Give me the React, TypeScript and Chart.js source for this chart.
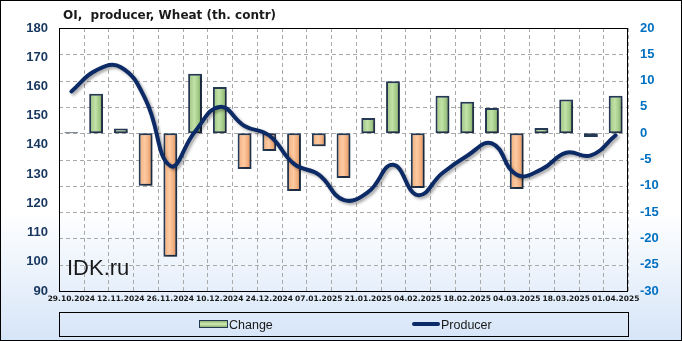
import React, { useEffect, useRef } from "react";
import { Chart, registerables } from "chart.js";
Chart.register(...registerables);

const categories = [
  "29.10.2024", "05.11.2024", "12.11.2024", "19.11.2024", "26.11.2024", "03.12.2024",
  "10.12.2024", "17.12.2024", "24.12.2024", "31.12.2024", "07.01.2025", "14.01.2025",
  "21.01.2025", "28.01.2025", "04.02.2025", "11.02.2025", "18.02.2025", "25.02.2025",
  "04.03.2025", "11.03.2025", "18.03.2025", "25.03.2025", "01.04.2025",
];
const change = [
  0.2, 7.5, 0.9, -10, -23.5, 11.3, 8.8, -6.8, -3.4, -11, -2.5, -8.5,
  2.9, 9.9, -10.4, 7.1, 6.0, 4.8, -10.6, 1.0, 6.4, -0.7, 7.1,
];
const producer = [
  158.3, 165.5, 166.6, 155.5, 132.8, 144.6, 153, 146.5, 143.2, 133.5, 129.8, 121.2,
  123.9, 133.2, 122.8, 130.4, 136.3, 140.5, 129.8, 131.6, 137.3, 136.4, 143.3,
];
const titleText = "OI,  producer, Wheat (th. contr)";
const leftRange = { min: 90, max: 180, step: 10 };
const rightRange = { min: -30, max: 20, step: 5 };

const NAVY = "#0b2a66";
const BAR_BORDER = "#263954";
const GRID = "#a9a9a9";

export default function App() {
  const ref = useRef<HTMLCanvasElement>(null);
  useEffect(() => {
    document.body.style.margin = "0";
    const canvas = ref.current;
    if (!canvas) return;

    const makeGrad = (c: CanvasRenderingContext2D, x0: number, x1: number, pos: boolean) => {
      const g = c.createLinearGradient(x0, 0, x1, 0);
      if (pos) {
        g.addColorStop(0, "#98c27a");
        g.addColorStop(0.45, "#c2e2a8");
        g.addColorStop(0.75, "#a0c884");
        g.addColorStop(1, "#6a914e");
      } else {
        g.addColorStop(0, "#f0a874");
        g.addColorStop(0.45, "#fdcaa2");
        g.addColorStop(0.75, "#f2ad7c");
        g.addColorStop(1, "#c47a48");
      }
      return g;
    };

    const dashedGrid = {
      id: "dashedGrid",
      beforeDatasetsDraw(chart: any) {
        const { left, top, right, bottom } = chart.chartArea;
        const c = chart.ctx;
        const xs = chart.scales.x;
        const ys = chart.scales.y1;
        c.save();
        c.strokeStyle = GRID;
        c.lineWidth = 1;
        c.setLineDash([4, 3]);
        c.beginPath();
        for (let i = 0; i <= categories.length; i++) {
          const x = Math.round(xs.getPixelForValue(i - 0.5)) + 0.5;
          c.moveTo(x, top);
          c.lineTo(x, bottom);
        }
        for (let v = rightRange.min; v <= rightRange.max; v += rightRange.step) {
          const y = Math.round(ys.getPixelForValue(v)) + 0.5;
          c.moveTo(left, y);
          c.lineTo(right, y);
        }
        c.stroke();
        c.restore();
      },
    };

    const shadow = {
      id: "shadow",
      beforeDatasetDraw(chart: any, args: any) {
        const c = chart.ctx;
        const meta = args.meta;
        if (meta && meta.type === "bar") {
          meta.data.forEach((el: any, i: number) => {
            if (!isFinite(el.x) || !el.options) return;
            const half = (el.width || 14) / 2;
            const g = makeGrad(c, el.x - half, el.x + half, change[i] >= 0);
            el.options = Object.assign({}, el.options, { backgroundColor: g });
          });
        }
        c.save();
        c.shadowColor = "rgba(0,0,0,0.35)";
        c.shadowBlur = 3;
        c.shadowOffsetX = 2;
        c.shadowOffsetY = 2;
      },
      afterDatasetDraw(chart: any) {
        chart.ctx.restore();
      },
    };
    const frame = {
      id: "frame",
      afterDraw(chart: any) {
        const { left, top, right, bottom } = chart.chartArea;
        const c = chart.ctx;
        c.save();
        c.strokeStyle = "#000";
        c.lineWidth = 1;
        c.strokeRect(Math.round(left) + 0.5, Math.round(top) + 0.5, Math.round(right - left) - 1, Math.round(bottom - top));
        c.restore();
      },
    };

    const axisFont = { family: "'Liberation Sans', Arial, sans-serif", weight: "bold" as const, size: 13 };

    const chart = new Chart(canvas, {
      type: "bar",
      data: {
        labels: categories,
        datasets: [
          {
            type: "line",
            label: "Producer",
            data: producer,
            yAxisID: "y",
            borderColor: NAVY,
            borderWidth: 4,
            pointRadius: 0,
            tension: 0.45,
            fill: false,
            order: 0,
            borderCapStyle: "round",
          } as any,
          {
            type: "bar",
            label: "Change",
            data: change,
            yAxisID: "y1",
            backgroundColor: change.map((v) => (v < 0 ? "#f4b183" : "#a9d18e")),
            borderColor: BAR_BORDER,
            borderWidth: 2,
            borderSkipped: false,
            barPercentage: 0.56,
            categoryPercentage: 1,
            order: 1,
          } as any,
        ],
      },
      options: {
        animation: false,
        responsive: false,
        maintainAspectRatio: false,
        layout: { padding: { top: 28, left: 0, right: 0, bottom: 0 } },
        plugins: {
          legend: { display: false },
          tooltip: { enabled: false },
          title: { display: false },
        },
        scales: {
          x: {
            offset: true,
            grid: { display: false, drawTicks: false },
            border: { display: false },
            ticks: {
              autoSkip: false,
              maxRotation: 0,
              minRotation: 0,
              padding: 4,
              color: "#1a1a1a",
              font: { family: "'DejaVu Sans', sans-serif", weight: "bold", size: 7.5 },
              callback: (_v: any, i: number) => (i % 2 === 0 ? categories[i] : ""),
            },
            afterFit: (s: any) => {
              s.height = 50;
            },
          },
          y: {
            position: "left",
            min: leftRange.min,
            max: leftRange.max,
            ticks: { stepSize: leftRange.step, padding: 11, color: "#17365d", font: axisFont },
            grid: { display: false, drawTicks: false },
            border: { display: false },
            afterFit: (s: any) => {
              s.width = 59;
            },
          },
          y1: {
            position: "right",
            min: rightRange.min,
            max: rightRange.max,
            ticks: { stepSize: rightRange.step, padding: 12, color: "#0070c0", font: axisFont },
            grid: { display: false, drawTicks: false },
            border: { display: false },
            afterFit: (s: any) => {
              s.width = 54;
            },
          },
        },
      } as any,
      plugins: [dashedGrid, shadow, frame],
    });
    return () => chart.destroy();
  }, []);

  return (
    <div
      style={{
        position: "fixed",
        left: 0,
        top: 0,
        width: 682,
        height: 341,
        boxSizing: "border-box",
        border: "1px solid #000",
        background: "linear-gradient(to bottom, #ffffff 0%, #ffffff 62%, #d6e5f8 100%)",
        overflow: "hidden",
      }}
    >
      <canvas ref={ref} width={682} height={341} style={{ position: "absolute", left: -1, top: -1, width: 682, height: 341 }} />
      <div
        style={{
          position: "absolute",
          left: 62,
          top: 5,
          font: "bold 12px 'DejaVu Sans', sans-serif",
          lineHeight: "18px",
          color: "#1a1a1a",
          whiteSpace: "pre",
        }}
      >
        {titleText}
      </div>
      <div
        style={{
          position: "absolute",
          left: 66,
          top: 254,
          font: "22px 'Liberation Sans', Arial, sans-serif",
          lineHeight: "26px",
          color: "#1a1a1a",
        }}
      >
        IDK.ru
      </div>
      <div
        style={{
          position: "absolute",
          left: 58,
          top: 311,
          width: 570,
          height: 25,
          boxSizing: "border-box",
          border: "1px solid #000",
        }}
      />
      <div
        style={{
          position: "absolute",
          left: 198,
          top: 319,
          width: 29,
          height: 8,
          boxSizing: "border-box",
          border: "1px solid #263954",
          background: "linear-gradient(to bottom, #8cb46c, #d2ebb8 50%, #8cb46c)",
        }}
      />
      <div
        style={{
          position: "absolute",
          left: 228,
          top: 315,
          font: "12.5px 'Liberation Sans', Arial, sans-serif",
          lineHeight: "18px",
          color: "#1a1a1a",
        }}
      >
        Change
      </div>
      <div
        style={{
          position: "absolute",
          left: 411,
          top: 321,
          width: 28,
          height: 4,
          borderRadius: 2,
          background: NAVY,
        }}
      />
      <div
        style={{
          position: "absolute",
          left: 440,
          top: 315,
          font: "12.5px 'Liberation Sans', Arial, sans-serif",
          lineHeight: "18px",
          color: "#1a1a1a",
        }}
      >
        Producer
      </div>
    </div>
  );
}
